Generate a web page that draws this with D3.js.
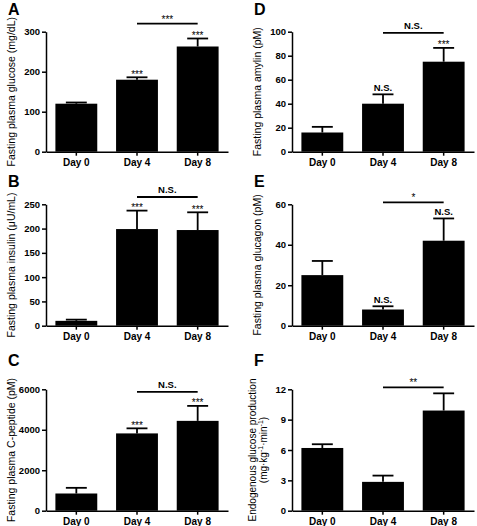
<!DOCTYPE html>
<html>
<head>
<meta charset="utf-8">
<script src="https://cdn.jsdelivr.net/npm/d3@7"></script>
<style>
  body { margin: 0; background: #fff; }
  svg { display: block; font-family: "Liberation Sans", Arial, Helvetica, sans-serif; }
  text { fill: #000; }
</style>
</head>
<body>
<script>
// ---------- data ----------
const categories = ["Day 0", "Day 4", "Day 8"];

const glucoseMean = [120, 180, 263];
const glucoseErr  = [3, 6, 20];
const glucoseSig  = ["", "***", "***"];
const glucoseTicks = [0, 100, 200, 300];

const insulinMean = [10, 199, 197];
const insulinErr  = [2.5, 38, 36.5];
const insulinSig  = ["", "***", "***"];
const insulinTicks = [0, 50, 100, 150, 200, 250];

const cpepMean = [850, 3820, 4440];
const cpepErr  = [280, 250, 740];
const cpepSig  = ["", "***", "***"];
const cpepTicks = [0, 2000, 4000, 6000];

const amylinMean = [16, 40, 75];
const amylinErr  = [4.7, 7.8, 11.5];
const amylinSig  = ["", "N.S.", "***"];
const amylinTicks = [0, 20, 40, 60, 80, 100];

const glucagonMean = [25, 8, 42];
const glucagonErr  = [7, 1.6, 11];
const glucagonSig  = ["", "N.S.", "N.S."];
const glucagonTicks = [0, 20, 40, 60];

const egpMean = [6.2, 2.85, 9.9];
const egpErr  = [0.37, 0.62, 1.7];
const egpSig  = ["", "", ""];
const egpTicks = [0, 3, 6, 9, 12];

// bracket comparisons: Day 4 vs Day 8 (height in data units, label)
const glucoseBracket  = { from: "Day 4", to: "Day 8", value: 320, label: "***" };
const insulinBracket  = { from: "Day 4", to: "Day 8", value: 265, label: "N.S." };
const cpepBracket     = { from: "Day 4", to: "Day 8", value: 5870, label: "N.S." };
const amylinBracket   = { from: "Day 4", to: "Day 8", value: 99, label: "N.S." };
const glucagonBracket = { from: "Day 4", to: "Day 8", value: 61, label: "*" };
const egpBracket      = { from: "Day 4", to: "Day 8", value: 12.2, label: "**" };

// ---------- layout ----------
const W = 477, H = 526;
const colX = [46, 292];
const plotW = 182;
const rowY = [[31.7, 151.7], [204.3, 325.7], [389.3, 510.7]];
const labelBase = [15, 187, 366];

const panels = [
  { letter: "A", col: 0, row: 0, mean: glucoseMean, err: glucoseErr, sig: glucoseSig, ticks: glucoseTicks, bracket: glucoseBracket, title: ["Fasting plasma glucose (mg/dL)"] },
  { letter: "B", col: 0, row: 1, mean: insulinMean, err: insulinErr, sig: insulinSig, ticks: insulinTicks, bracket: insulinBracket, title: ["Fasting plasma insulin (\u03BCU/mL)"] },
  { letter: "C", col: 0, row: 2, mean: cpepMean, err: cpepErr, sig: cpepSig, ticks: cpepTicks, bracket: cpepBracket, title: ["Fasting plasma C-peptide (pM)"] },
  { letter: "D", col: 1, row: 0, mean: amylinMean, err: amylinErr, sig: amylinSig, ticks: amylinTicks, bracket: amylinBracket, title: ["Fasting plasma amylin (pM)"] },
  { letter: "E", col: 1, row: 1, mean: glucagonMean, err: glucagonErr, sig: glucagonSig, ticks: glucagonTicks, bracket: glucagonBracket, title: ["Fasting plasma glucagon (pM)"] },
  { letter: "F", col: 1, row: 2, mean: egpMean, err: egpErr, sig: egpSig, ticks: egpTicks, bracket: egpBracket, title: ["Endogenous glucose production", "units"] }
];

const svg = d3.select("body").append("svg").attr("width", W).attr("height", H);

panels.forEach(p => {
  const x0 = colX[p.col];
  const [yTop, yBot] = rowY[p.row];
  const x = d3.scaleBand().domain(categories).range([x0, x0 + plotW]).paddingInner(0.31).paddingOuter(0.155);
  const y = d3.scaleLinear().domain([0, d3.max(p.ticks)]).range([yBot, yTop]);
  const g = svg.append("g");

  // bars
  g.selectAll("rect.bar").data(categories).join("rect")
    .attr("x", d => x(d)).attr("width", x.bandwidth())
    .attr("y", (d, i) => y(p.mean[i]))
    .attr("height", (d, i) => y(0) - y(p.mean[i]))
    .attr("fill", "#000");

  // error bars (upper)
  const cx = d => x(d) + x.bandwidth() / 2;
  const capW = x.bandwidth() / 2;
  categories.forEach((d, i) => {
    const top = y(p.mean[i] + p.err[i]);
    g.append("line").attr("x1", cx(d)).attr("x2", cx(d))
      .attr("y1", y(p.mean[i])).attr("y2", top)
      .attr("stroke", "#000").attr("stroke-width", 1.8);
    g.append("line").attr("x1", cx(d) - capW / 2).attr("x2", cx(d) + capW / 2)
      .attr("y1", top).attr("y2", top)
      .attr("stroke", "#000").attr("stroke-width", 1.8);
    const s = p.sig[i];
    if (s) {
      const isStar = s.indexOf("*") >= 0;
      g.append("text").attr("x", cx(d)).attr("y", top + (isStar ? 0.5 : -3))
        .attr("text-anchor", "middle").attr("fill", "#000")
        .attr("font-size", isStar ? 10 : 9.5)
        .attr("font-weight", isStar ? "normal" : "bold")
        .text(s);
    }
  });

  // y axis
  const ya = g.append("g").attr("transform", `translate(${x0},0)`)
    .call(d3.axisLeft(y).tickValues(p.ticks).tickFormat(d3.format("d"))
      .tickSize(4).tickSizeOuter(0).tickPadding(2));
  ya.select(".domain").attr("stroke", "#000").attr("stroke-width", 1.5);
  ya.selectAll(".tick line").attr("stroke", "#000").attr("stroke-width", 1.5);
  ya.selectAll(".tick text").attr("font-size", 9.5).attr("font-weight", "bold")
    .attr("font-family", null).attr("fill", "#000");

  // x axis
  const xa = g.append("g").attr("transform", `translate(0,${yBot})`)
    .call(d3.axisBottom(x).tickSize(4).tickSizeOuter(0).tickPadding(3.4));
  xa.select(".domain").attr("stroke", "#000").attr("stroke-width", 1.5);
  xa.selectAll(".tick line").attr("stroke", "#000").attr("stroke-width", 1.5);
  xa.selectAll(".tick text").attr("font-size", 10).attr("font-weight", "bold")
    .attr("font-family", null).attr("fill", "#000");

  // bracket
  const b = p.bracket;
  const by = y(b.value);
  const bx1 = cx(b.from), bx2 = cx(b.to);
  g.append("line").attr("x1", bx1).attr("x2", bx2).attr("y1", by).attr("y2", by)
    .attr("stroke", "#000").attr("stroke-width", 1.8);
  const bStar = b.label.indexOf("*") >= 0;
  g.append("text").attr("x", (bx1 + bx2) / 2).attr("y", by + (bStar ? -1 : -4))
    .attr("text-anchor", "middle").attr("fill", "#000")
    .attr("font-size", bStar ? 10 : 9.5)
    .attr("font-weight", bStar ? "normal" : "bold")
    .text(b.label);

  // y title
  const cy = (yTop + yBot) / 2;
  if (p.title.length === 1) {
    g.append("text").attr("transform", `translate(${x0 - 31},${cy}) rotate(-90)`)
      .attr("text-anchor", "middle").attr("font-size", 10.5).attr("fill", "#000").text(p.title[0]);
  } else {
    g.append("text").attr("transform", `translate(${x0 - 36},${cy}) rotate(-90)`)
      .attr("text-anchor", "middle").attr("font-size", 10).attr("fill", "#000").text(p.title[0]);
    const t2 = g.append("text").attr("transform", `translate(${x0 - 25},${cy}) rotate(-90)`)
      .attr("text-anchor", "middle").attr("font-size", 10).attr("fill", "#000");
    t2.append("tspan").text("(mg\u00B7kg");
    t2.append("tspan").attr("font-size", 7).attr("dy", -4).text("-1");
    t2.append("tspan").attr("dy", 4).text("\u00B7min");
    t2.append("tspan").attr("font-size", 7).attr("dy", -4).text("-1");
    t2.append("tspan").attr("dy", 4).text(")");
  }

  // panel letter
  g.append("text").attr("x", x0 - 38).attr("y", labelBase[p.row])
    .attr("font-size", 16).attr("font-weight", "bold").attr("fill", "#000").text(p.letter);
});
</script>
</body>
</html>
